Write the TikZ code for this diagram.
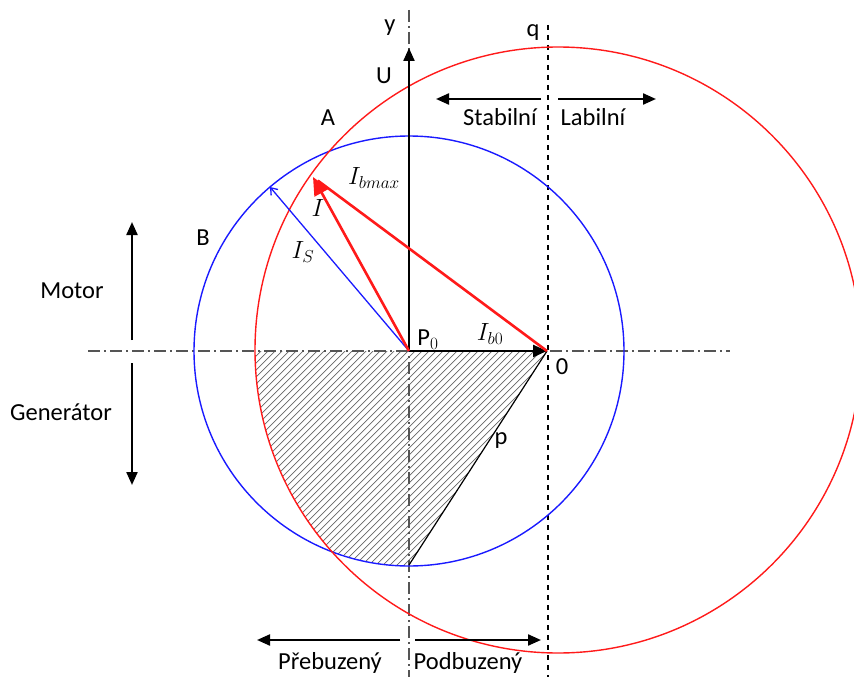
\documentclass[tikz,border=0pt]{standalone}
\usepackage{fontspec}
\setmainfont{Carlito}
\usetikzlibrary{arrows.meta, positioning}
\definecolor{axisgray}{HTML}{555555}
\definecolor{rotor}{HTML}{FF1A1A}
\definecolor{stator}{HTML}{1A1AFF}
\definecolor{hatchgray}{HTML}{666666}

\begin{document}
\begin{tikzpicture}[x=1pt, y=-1pt, font=\fontsize{24.5}{28}\selectfont,
    axisline/.style={draw=axisgray, line width=1.3pt, dash pattern=on 12pt off 4pt on 2pt off 4pt},
    bigarrow/.style={-{Triangle[length=13pt,width=11pt]}, line width=2.2pt},
    lbl/.style={inner sep=1pt},
    mlbl/.style={inner sep=1pt, font=\fontsize{27}{30}\selectfont}]
  \clip (0,0) rectangle (854,677);

  % Key points of the diagram.
  \coordinate (P0) at (409,351);
  \coordinate (O) at (547,351);
  \coordinate (Mred) at (558,350);
  \coordinate (Itip) at (313,177);
  \coordinate (IStip) at (270,187);
  \coordinate (Utip) at (409,48);
  \coordinate (pend) at (409,565);

  % Hatched area: inside both circles, below the axis, left of p.
  \begin{scope}
    \clip (Mred) circle[radius=303pt];
    \clip (P0) circle[radius=215pt];
    \clip (180,351) -- (O) -- (pend) -- (380,610) -- (180,610) -- cycle;
    \foreach \hx in {-120,-113,...,560}
      \draw[hatchgray, line width=0.7pt] (\hx,620) -- ++(300,-300);
  \end{scope}

  % Axes and the line q.
  \coordinate (xl) at (88,351);
  \coordinate (xr) at (730,351);
  \coordinate (yt) at (409,10);
  \coordinate (yb) at (409,677);
  \draw[axisline] (xl) -- (xr);
  \draw[axisline] (yt) -- (yb);
  \coordinate (qt) at (548,25);
  \coordinate (qb) at (548,677);
  \draw[line width=1.2pt, dash pattern=on 5pt off 5pt] (qt) -- (qb);

  % The two circles.
  \draw[stator, line width=1.4pt] (P0) circle[radius=215pt];
  \draw[rotor, line width=1.4pt] (Mred) circle[radius=303pt];

  % Line p.
  \draw[line width=1.2pt] (O) -- (pend);

  % Phasors.
  \draw[bigarrow] (P0) -- (Utip);
  \draw[-{Triangle[length=14pt,width=12pt]}, line width=2.4pt] (P0) -- (O);
  \draw[stator, line width=1.3pt, -{Straight Barb[length=6pt,width=9pt]}] (P0) -- (IStip);
  \draw[rotor, line width=2.6pt, shorten >=6pt] (O) -- (Itip);
  \draw[rotor, line width=2.6pt, -{Triangle[length=18pt,width=16pt]}] (P0) -- (Itip);

  % Region arrows.
  \coordinate (stabR) at (541,99);
  \coordinate (stabL) at (436,99);
  \coordinate (labL) at (558,99);
  \coordinate (labR) at (656,99);
  \draw[bigarrow] (stabR) -- (stabL);
  \draw[bigarrow] (labL) -- (labR);
  \coordinate (motB) at (132,340);
  \coordinate (motT) at (132,222);
  \coordinate (genT) at (132,363);
  \coordinate (genB) at (132,485);
  \draw[bigarrow] (motB) -- (motT);
  \draw[bigarrow] (genT) -- (genB);
  \coordinate (preR) at (400,640);
  \coordinate (preL) at (257,640);
  \coordinate (podL) at (415,640);
  \coordinate (podR) at (541,640);
  \draw[bigarrow] (preR) -- (preL);
  \draw[bigarrow] (podL) -- (podR);

  % Labels.
  \node[lbl] (ylab) at (390,28) {y};
  \node[lbl] (Ulab) at (384,76) {U};
  \node[lbl] (qlab) at (533,33) {q};
  \node[lbl] (Alab) at (328,118) {A};
  \node[lbl] (Blab) at (203,238) {B};
  \node[lbl] (stab) at (500,117) {Stabilní};
  \node[lbl] (lab) at (593,117) {Labilní};
  \node[lbl] (motor) at (72,291) {Motor};
  \node[lbl] (gen) at (61,412) {Generátor};
  \node[mlbl] (Ibmax) at (374,178) {$I_{bmax}$};
  \node[mlbl] (Ilab) at (318,208) {$I$};
  \node[mlbl] (ISlab) at (303,252) {$I_S$};
  \node[lbl] (P0lab) at (428,340) {P$_0$};
  \node[mlbl] (Ib0) at (490,334) {$I_{b0}$};
  \node[lbl] (Olab) at (562,367) {0};
  \node[lbl] (plab) at (501,441) {p};
  \node[lbl] (pre) at (330,663) {Přebuzený};
  \node[lbl] (pod) at (468,663) {Podbuzený};
\end{tikzpicture}
\end{document}
